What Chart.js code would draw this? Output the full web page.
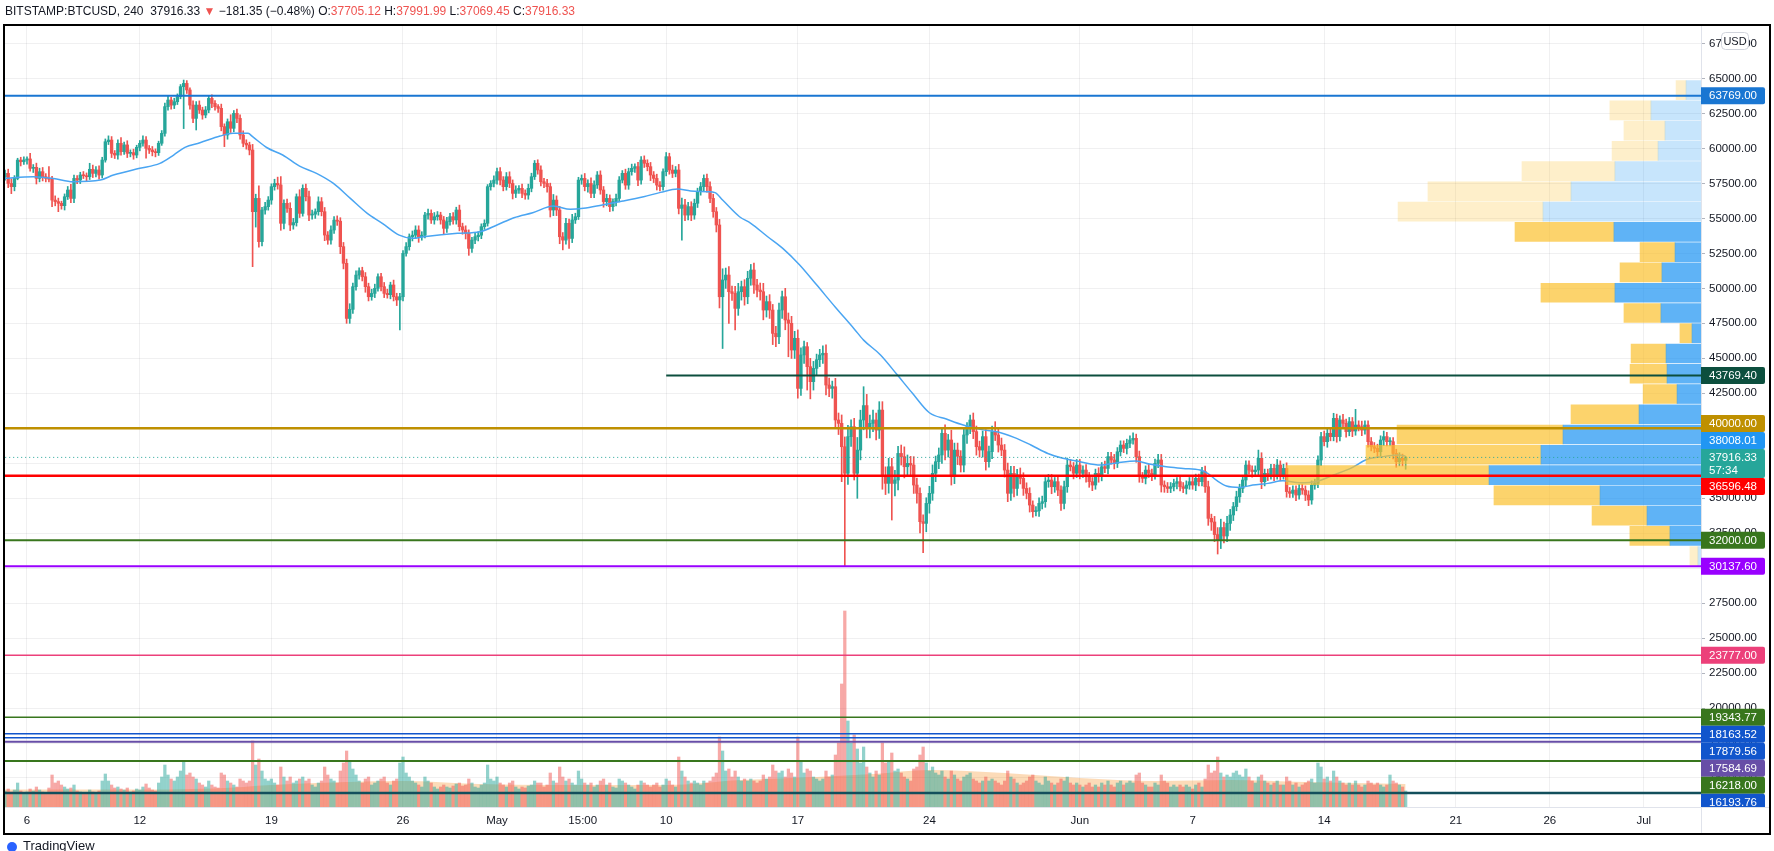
<!DOCTYPE html>
<html><head><meta charset="utf-8">
<script src="https://cdn.jsdelivr.net/npm/chart.js@4.4.1/dist/chart.umd.min.js"></script>
<style>html,body{margin:0;padding:0;background:#fff;overflow:hidden}canvas{display:block}</style>
</head><body>
<canvas id="c" width="1774" height="851" style="width:1774px;height:851px"></canvas>
<script>
// ---------- DATA ----------
// 4h candles, first bar = Apr 4 20:00, x unit = days since Apr 6 00:00
const FIRST_BAR_DAY = -7 / 6;
const BAR_DAYS = 1 / 6;
const firstOpen = 57980;
const closes = [
58220,57500,57270,57860,59170,59050,59170,59250,58580,58650,57860,58340,
57980,57860,57800,56310,56200,56080,55910,56550,57030,56430,57860,57740,
58100,58050,57980,58510,58220,58460,58100,59170,60480,60600,59650,59530,
60370,59770,60250,59650,59700,59530,60080,60370,60600,60010,59890,59770,
59700,60370,61080,62990,63460,63100,63340,63700,64420,64650,64180,63100,
62150,63100,62750,62390,62750,63580,63220,62990,62870,61560,60960,61910,
61440,62510,62150,60960,60370,60250,59890,55480,56430,53340,55600,55840,
56310,57270,57500,57390,54650,56080,55720,54530,54700,56550,55360,57150,
56550,55240,55300,55480,56190,55480,53810,53450,54170,54880,54800,52980,
51790,47850,48500,50120,50950,51260,50830,50120,49400,49640,50000,50830,
50120,49640,49550,50240,49400,49170,49400,52500,52980,53690,53800,54170,
53690,53800,55240,55360,54890,55120,55240,54890,54290,54770,55120,54890,
55600,54410,54170,53930,52860,53450,53690,53800,54410,54650,57270,57500,
57740,58340,57740,57270,57980,57500,56790,57030,57150,56790,56670,57150,
57980,58940,58460,57620,57500,57270,55600,56310,55600,53690,53450,54650,
53570,54890,55120,57740,57860,57270,57500,56790,57390,58100,57030,56200,
56430,55840,56200,56430,57740,58220,57380,58340,58580,58700,57740,59170,
58940,58700,58100,57860,57380,57270,58340,59410,58460,58220,58460,55720,
55960,55240,55840,55240,56080,56910,57270,57860,57270,56430,55480,54530,
49400,50600,50950,49760,49640,48570,49760,50120,49400,50720,51310,50240,
49880,49760,48450,49050,48450,46780,46540,48450,49400,47740,47500,45590,
46430,42850,45240,45830,44400,43330,44280,44900,45240,45360,43090,42850,
42970,40590,40350,38680,36780,39400,40110,36780,38440,40590,41620,40110,
40350,40590,39870,41300,36540,36060,37250,36060,36300,38200,37970,37250,
37490,37370,35940,35350,33320,33200,34630,35350,36780,37610,38090,39640,
38440,39160,36540,38440,38000,37370,39520,40110,40590,39760,38680,38440,
39400,37610,38330,39750,39520,38800,38440,37010,35350,36780,35700,36660,
36420,35700,35350,34510,34040,34100,34630,34750,36180,36300,35820,36180,
35580,34630,35820,37370,37250,36780,37370,36780,37010,36540,36180,35940,
36780,36540,37250,37130,37970,37730,37490,38320,38800,38560,38920,39160,
39280,37970,36540,36420,37010,36780,36660,37490,37730,35940,35820,35700,
35820,36060,36180,35820,35700,35940,36180,35940,36420,36180,36900,35820,
33560,33300,32400,32000,32900,32300,33200,33800,34400,35100,35700,36300,
37370,37010,36900,37010,37850,36180,36780,36660,37130,36660,37370,36660,
37130,35470,35350,35580,35230,35700,35580,35230,34870,35940,36060,37730,
39400,39040,39640,39400,40710,39400,40590,40350,39760,40470,39800,40230,
40110,39870,40230,39040,38680,38560,38320,39160,39400,39040,39040,38200,
37610,37850,37705.12,37916.33];
// wick lengths above / below the body (USD)
const upperWicks = [
240,300,330,200,130,200,230,150,400,200,300,250,
300,220,840,200,300,250,150,200,250,400,240,200,
200,250,200,430,300,250,300,200,200,300,250,200,
250,400,200,300,200,250,150,200,300,250,200,250,
200,150,200,250,300,200,250,200,150,240,200,150,
300,250,300,200,250,200,250,200,150,300,200,200,
500,200,300,250,300,250,200,400,300,900,200,300,
250,200,300,450,600,250,300,400,300,200,500,250,
300,400,300,200,350,300,300,250,300,250,300,250,
300,300,400,250,300,200,250,300,250,300,300,200,
250,300,300,200,350,250,250,200,300,200,300,300,
300,250,200,300,250,300,250,200,250,300,250,300,
200,350,250,300,250,200,300,250,200,250,150,200,
300,250,300,250,300,350,250,300,200,300,250,300,
250,200,250,300,250,300,250,400,300,250,300,350,
300,400,250,200,250,350,250,400,300,250,300,250,
300,250,200,300,250,200,300,250,300,200,300,250,
300,250,300,250,300,250,200,300,250,350,250,400,
500,400,300,350,300,250,300,250,300,350,300,300,
400,800,500,600,400,500,600,400,500,500,400,500,
400,500,600,400,500,400,500,500,400,600,500,500,
500,600,500,400,300,600,500,400,400,540,600,500,
400,600,500,600,700,800,500,600,900,700,1350,800,
600,700,500,600,600,700,600,600,700,500,600,700,
600,500,600,500,400,500,400,500,600,400,500,400,
600,400,700,500,500,400,400,300,360,500,400,400,
400,500,400,400,720,400,500,400,500,500,500,400,
500,400,400,400,300,300,400,400,300,400,400,300,
400,300,400,500,400,300,400,400,300,400,300,300,
300,400,300,400,300,300,400,300,300,300,300,300,
400,300,400,300,300,400,300,300,400,400,300,300,
300,300,300,400,300,300,300,400,300,300,300,400,
400,300,400,500,600,400,500,400,300,400,300,300,
300,300,300,300,590,400,300,300,300,300,400,300,
300,400,300,300,300,300,300,300,300,300,300,300,
300,400,300,400,360,300,300,400,300,300,300,1120,
300,400,300,300,300,300,300,300,400,300,300,300,
300,400,300,76];
const lowerWicks = [
240,300,500,300,100,300,200,300,200,300,400,250,
300,250,200,470,300,600,250,310,200,300,300,250,
250,200,300,200,300,250,300,200,150,200,300,250,
300,250,200,300,250,300,200,250,200,700,250,300,
300,200,150,200,250,300,250,200,150,3000,250,300,
300,830,250,300,200,200,300,250,300,300,830,300,
300,250,300,300,250,300,350,3930,1100,400,300,300,
250,300,250,300,500,400,300,400,300,250,300,200,
300,400,300,300,250,300,400,300,300,250,300,500,
400,350,350,300,250,300,300,400,300,250,300,200,
300,300,250,300,300,400,2150,300,200,250,300,250,
400,250,200,300,250,300,250,300,400,300,250,300,
300,300,300,400,500,300,250,300,250,200,200,250,
250,300,350,300,250,300,400,300,250,300,300,300,
250,200,300,300,300,400,500,400,400,500,700,300,
710,300,250,200,300,300,400,300,300,250,300,400,
300,350,300,300,250,200,300,300,250,300,400,300,
300,300,400,300,350,300,250,300,300,300,250,400,
2270,400,350,400,300,300,250,300,400,300,400,500,
800,3700,600,2260,500,1550,500,600,600,500,500,600,
500,600,700,500,600,800,700,500,600,700,2390,600,
600,700,500,600,1670,1230,600,500,500,600,700,590,
700,600,800,2500,6640,800,700,480,1790,700,700,800,
800,600,700,600,900,800,700,2620,900,700,600,800,
700,800,600,700,800,2100,600,700,500,600,500,600,
700,500,600,500,600,500,500,600,500,500,600,500,
500,600,400,500,400,500,400,500,600,500,600,500,
400,500,400,500,400,300,400,400,400,400,500,400,
400,500,400,400,300,400,300,400,300,400,400,400,
300,400,300,300,400,300,400,300,300,300,400,300,
300,400,400,300,400,300,400,300,300,500,400,300,
300,300,400,300,300,400,300,300,400,300,300,400,
500,600,500,990,600,500,400,500,400,300,400,300,
400,300,400,300,400,500,300,400,300,400,300,400,
300,400,300,300,400,300,300,400,400,300,300,300,
400,300,400,300,300,400,300,300,400,300,400,300,
300,400,300,400,300,300,400,300,400,300,300,400,
400,300,400,636];
// volume per bar (BTC)
const volumes = [
1600,1800,1500,1700,2400,1600,1400,1500,1800,1600,2000,1700,
1500,1400,1900,3200,2400,2600,2200,2000,1800,1900,2200,1600,
1500,1300,1400,1700,1500,1400,1600,2600,3300,2600,2200,1900,
2000,1800,1700,1900,1500,1600,1800,1700,2000,2300,1900,1700,
1600,2400,3000,4200,3200,2800,2600,3000,3600,4600,3200,3400,
3000,2800,2400,2200,2000,2600,2200,2000,1900,3400,3200,2600,
2400,2200,2000,2800,2600,2400,2600,6600,4200,4800,3600,2800,
2600,2800,2400,2200,4000,3000,2600,3000,2400,2600,2800,3000,
2600,2800,2200,2000,2400,2600,4000,3200,2800,2600,2400,3600,
4400,5600,4600,3800,3200,2600,2400,2800,3000,2200,2400,2600,
2800,3000,2400,2200,2600,2800,4400,5000,3400,3000,2600,2400,
2200,2000,3000,2600,2400,2000,1800,2000,2200,2000,1900,2100,
2300,2400,2100,2200,2800,2400,2000,1900,2200,2400,4200,2800,
2600,3000,2400,2200,2000,2400,2600,2000,1800,2000,1900,2100,
2200,2600,2400,2400,2000,2200,3400,2600,2400,4000,3000,2600,
2800,2400,2200,3600,2800,2400,2200,2400,2000,2200,2600,2800,
2200,2400,2000,1900,2800,2600,2400,2200,2000,1800,2200,2600,
2400,2200,2000,2200,2400,2000,2200,2800,2600,2200,2000,5000,
3600,3000,2600,2400,2600,2400,2200,2600,2400,2600,3000,3400,
7000,5600,3600,3800,3000,3600,3000,2600,2800,2600,2800,2600,
2400,2600,3200,2800,3000,4200,3600,3400,3600,3000,3800,3400,
3000,7000,4600,3400,3800,3600,3000,2800,2600,2800,3600,3000,
3200,5200,6400,12300,19600,8600,6400,7200,5800,4400,6000,4000,
3400,3000,3600,3200,6400,4400,4600,5400,3600,3800,3400,3000,
2800,2600,3800,4000,5200,6000,4400,3600,4000,3400,3200,3600,
3000,2800,3600,3200,2800,2600,3000,3200,3400,2800,2600,2400,
2600,3000,2600,2800,2600,2400,2200,2600,3600,3000,2800,2400,
2200,2400,2600,3000,3200,2600,2400,2200,3000,2600,2400,2200,
2400,2800,2600,3000,2400,2200,2400,2200,2000,2200,2400,2000,
2200,2000,2400,2200,2600,2200,2000,2400,2600,2200,2400,2600,
2400,3200,3400,2400,2200,2000,2000,2400,2200,3200,2600,2400,
2000,2200,2000,2200,2000,2200,2000,1800,2200,2400,2000,2800,
4200,3400,3600,5000,3400,3000,3200,3000,3400,3600,3200,3000,
3800,3000,2600,2400,3000,3200,2600,2400,2200,2400,2600,2200,
2200,3000,2600,2200,2400,2000,2200,2400,2600,2800,2400,4400,
4000,2800,3000,2600,3600,3000,2600,2400,2200,2400,2200,2600,
2200,2000,2200,2600,2400,2200,2400,2200,2000,2200,3200,2600,
2400,2200,2000,1600];
// moving average of price (blue line), [day, price]
const maPoints = [[-1.25,57860],[0.32,57980],[1.4,57860],[2.45,57620],[3.9,57740],[4.6,58100],[6.0,58580],[7.07,58930],[7.8,59530],[8.4,60080],[9.2,60410],[10.27,60890],[10.96,61080],[11.76,61080],[12.0,60840],[12.77,60050],[13.6,59530],[14.5,58740],[15.4,58220],[16.3,57500],[17.2,56430],[18.1,55360],[18.9,54650],[19.8,53800],[20.5,53580],[21.1,53690],[22.9,53930],[24.1,54050],[25.0,54530],[25.9,55050],[26.9,55410],[28.0,55880],[28.9,55650],[29.6,55720],[30.6,55960],[31.7,56240],[32.8,56550],[33.7,56860],[34.6,57100],[35.3,56960],[36.2,56910],[36.6,56840],[37.0,56310],[37.9,55120],[38.5,54650],[39.4,53690],[40.2,52860],[41.1,51670],[42.0,50250],[43.0,48650],[44.0,47100],[44.5,46300],[45.4,45240],[46.3,43800],[47.1,42500],[48.0,41110],[48.9,40660],[49.8,40230],[50.7,39920],[51.6,39750],[52.5,39350],[53.4,38800],[54.3,38200],[55.1,37850],[56.0,37610],[57.1,37370],[58.0,37540],[59.0,37660],[59.7,37440],[60.6,37250],[61.5,37130],[62.4,37010],[62.8,36780],[63.3,36250],[63.8,35870],[64.5,35770],[65.2,35940],[66.0,36060],[66.8,36250],[67.7,36100],[68.6,36200],[69.5,36660],[70.4,37130],[71.3,37780],[72.1,37970],[73.0,38090],[73.33,38008.01]];
// moving average of volume (peach area), [day, BTC]
const volMaPoints = [[-1.25,1750],[5,1750],[10,1850],[13,2200],[17,2500],[20,2600],[24,2300],[28,2200],[34,2200],[38,2700],[42,3000],[45,3300],[48,3700],[52,3400],[56,2900],[60,2600],[64,2700],[68,2500],[73.33,2300]];
// visible range volume profile, rows from the lowest price upward (thousand BTC)
const profileLow = 30137.6, profileHigh = 64895, profileRows = 24;
const profileBuy  = [0.18,1.83,3.18,5.95,12.49,9.43,8.13,3.65,1.41,2.00,2.06,0.53,2.36,5.07,2.30,1.53,5.13,9.31,7.66,5.07,2.53,2.12,2.95,0.88];
const profileSell = [0.47,2.36,3.24,6.25,11.96,10.31,9.78,4.01,2.00,2.18,2.06,0.71,2.18,4.36,2.47,2.06,5.83,8.54,8.43,5.48,2.71,2.42,2.42,0.59];
const valueAreaFirstRow = 1, valueAreaLastRow = 16;
// horizontal levels
const levelPrices = [63769.00,43769.40,40000.00,36596.48,32000.00,30137.60,23777.00,19343.77,18163.52,17879.56,17584.69,16218.00,16193.76,13930];
const levelColors = ['#1976d2','#0c4f3e','#bf9000','#ff0000','#38761d','#9900ff','#ec407a','#38761d','#1155cc','#1155cc','#674ea7','#38761d','#1155cc','#134f5c'];
const levelWidths = [2,2,2.5,2.5,2,2,1.5,1.5,1.5,1.5,2,2,1.5,2.5];
const levelStartDay = [null,34,null,null,null,null,null,null,null,null,null,null,null,null];
const levelLabels = ['63769.00','43769.40','40000.00','36596.48','32000.00','30137.60','23777.00','19343.77','18163.52','17879.56','17584.69','16218.00','16193.76',null];
// axes
const tickDays = [0,6,13,20,25,29.56,34,41,48,56,62,69,76,81,86];
const tickLabels = ['6','12','19','26','May','15:00','10','17','24','Jun','7','14','21','26','Jul'];
const priceMin = 12927, priceMax = 68753, priceStep = 2500;
const dayMin = -1.2234, dayMax = 89.0426;
// header
const symbolText = 'BITSTAMP:BTCUSD, 240';
const lastPrice = 37916.33, change = '\u2212181.35', changePct = '(\u22120.48%)';
const hdrO = '37705.12', hdrH = '37991.99', hdrL = '37069.45', hdrC = '37916.33';
const countdown = '57:34';

// ---------- BUILD ----------
const UP = '#26a69a', DOWN = '#ef5350';
const FONT = '"Liberation Sans", Arial, sans-serif';
const barDay = closes.map((_, i) => FIRST_BAR_DAY + i * BAR_DAYS);
const opens = closes.map((c, i) => i === 0 ? firstOpen : closes[i - 1]);
const highs = closes.map((c, i) => Math.max(opens[i], c) + upperWicks[i]);
const lows = closes.map((c, i) => Math.min(opens[i], c) - lowerWicks[i]);
const isUp = closes.map((c, i) => c >= opens[i]);
const candleColor = isUp.map(u => u ? UP : DOWN);
const volColor = isUp.map(u => u ? 'rgba(38,166,154,0.5)' : 'rgba(239,83,80,0.5)');
const rowStep = (profileHigh - profileLow) / profileRows;
const rowCenter = profileBuy.map((_, k) => profileLow + rowStep * (k + 0.5));
const inVA = k => k >= valueAreaFirstRow && k <= valueAreaLastRow;
const priceTicks = [];
for (let v = Math.ceil(priceMin / priceStep) * priceStep; v <= priceMax; v += priceStep) priceTicks.push(v);

const datasets = [];
datasets.push({type:'line', label:'volMA', yAxisID:'yv', xAxisID:'x', data: volMaPoints.map(([d,v])=>({x:d,y:v})),
  borderWidth:0, pointRadius:0, fill:'origin', backgroundColor:'rgba(245,124,0,0.28)', cubicInterpolationMode:'monotone', order:10});
datasets.push({type:'bar', label:'vol', yAxisID:'yv', xAxisID:'x', data: barDay.map((d,i)=>({x:d,y:volumes[i]})),
  backgroundColor: volColor, barThickness:2.6, grouped:false, order:9});
datasets.push({type:'bar', label:'wicks', yAxisID:'y', xAxisID:'x', data: barDay.map((d,i)=>({x:d,y:[lows[i],highs[i]]})),
  backgroundColor: candleColor, barThickness:1, grouped:false, order:7});
datasets.push({type:'bar', label:'bodies', yAxisID:'y', xAxisID:'x', data: barDay.map((d,i)=>({x:d,y:[opens[i],closes[i]]})),
  backgroundColor: candleColor, barThickness:2.7, minBarLength:1, grouped:false, order:6});
datasets.push({type:'line', label:'MA', yAxisID:'y', xAxisID:'x', data: maPoints.map(([d,p])=>({x:d,y:p})),
  borderColor:'#4aa5f2', borderWidth:1.5, pointRadius:0, fill:false, cubicInterpolationMode:'monotone', order:5.5});
datasets.push({type:'bar', label:'profileBuy', indexAxis:'y', yAxisID:'y', xAxisID:'xp',
  data: rowCenter.map((c,k)=>({y:c, x:[0, profileBuy[k]]})),
  backgroundColor: rowCenter.map((c,k)=> inVA(k) ? 'rgba(33,150,243,0.72)' : 'rgba(33,150,243,0.25)'),
  barThickness:19, grouped:false, order:5});
datasets.push({type:'bar', label:'profileSell', indexAxis:'y', yAxisID:'y', xAxisID:'xp',
  data: rowCenter.map((c,k)=>({y:c, x:[profileBuy[k], profileBuy[k] + profileSell[k]]})),
  backgroundColor: rowCenter.map((c,k)=> inVA(k) ? 'rgba(251,192,45,0.7)' : 'rgba(251,192,45,0.25)'),
  barThickness:19, grouped:false, order:5});
levelPrices.forEach((p, i) => {
  const x0 = levelStartDay[i] === null ? dayMin - 1 : levelStartDay[i];
  datasets.push({type:'line', label:'lvl'+i, yAxisID:'y', xAxisID:'x', data:[{x:x0,y:p},{x:dayMax+1,y:p}],
    borderColor: levelColors[i], borderWidth: levelWidths[i], pointRadius:0, fill:false, order:4});
});
datasets.push({type:'line', label:'last', yAxisID:'y', xAxisID:'x', data:[{x:dayMin-1,y:lastPrice},{x:dayMax+1,y:lastPrice}],
  borderColor: UP, borderWidth:1, borderDash:[1,3], pointRadius:0, fill:false, order:3});

const GRID = 'rgba(42,46,57,0.07)';
const overlay = {
  id:'overlay',
  afterDraw(chart) {
    const ctx = chart.ctx, ys = chart.scales.y, ca = chart.chartArea;
    const R = ca.right;
    ctx.save();
    ctx.strokeStyle = '#e0e3eb'; ctx.lineWidth = 1;
    ctx.beginPath(); ctx.moveTo(R + 0.5, ca.bottom); ctx.lineTo(R + 0.5, 834); ctx.stroke();
    ctx.beginPath(); ctx.moveTo(R, ca.bottom + 0.5); ctx.lineTo(1770, ca.bottom + 0.5); ctx.stroke();
    // price labels with stacking
    const items = [];
    levelPrices.forEach((p, i) => { if (levelLabels[i]) items.push({p, text: levelLabels[i], color: levelColors[i], h: 17}); });
    const maLast = maPoints[maPoints.length - 1][1];
    items.push({p: maLast, text: maLast.toFixed(2), color: '#2196f3', h: 17});
    items.push({p: lastPrice, text: lastPrice.toFixed(2), sub: countdown, color: UP, h: 29, anchor: true});
    items.forEach(it => { it.y = ys.getPixelForValue(it.p); it.top = it.y - 8.5; });
    items.sort((a, b) => a.y - b.y);
    const ai = items.findIndex(it => it.anchor);
    for (let i = ai - 1; i >= 0; i--) { const b = items[i + 1]; if (items[i].top + items[i].h > b.top) items[i].top = b.top - items[i].h; }
    for (let i = ai + 1; i < items.length; i++) { const a = items[i - 1]; if (items[i].top < a.top + a.h) items[i].top = a.top + a.h; }
    ctx.save();
    ctx.beginPath(); ctx.rect(R, ca.top - 2, 70, ca.bottom - ca.top + 2); ctx.clip();
    ctx.font = '11.5px ' + FONT; ctx.textBaseline = 'middle'; ctx.textAlign = 'left';
    items.forEach(it => {
      ctx.fillStyle = it.color;
      ctx.beginPath(); ctx.roundRect(R, it.top, 64, it.h, [0, 2, 2, 0]); ctx.fill();
      ctx.fillStyle = '#ffffff';
      ctx.fillText(it.text, R + 8, it.top + 9);
      if (it.sub) ctx.fillText(it.sub, R + 8, it.top + 22);
    });
    ctx.restore();
    // USD box
    ctx.fillStyle = '#fff'; ctx.strokeStyle = '#d1d4dc'; ctx.lineWidth = 1;
    ctx.beginPath(); ctx.roundRect(1721.5, 32.5, 27, 17, 4); ctx.fill(); ctx.stroke();
    ctx.fillStyle = '#131722'; ctx.font = '11px ' + FONT; ctx.textAlign = 'center'; ctx.textBaseline = 'middle';
    ctx.fillText('USD', 1735, 41.5);
    // header
    ctx.textAlign = 'left'; ctx.font = '12px ' + FONT; ctx.textBaseline = 'middle';
    const dark = '#131722';
    const parts = [[symbolText, dark], ['  ' + lastPrice.toFixed(2) + ' ', dark], ['\u25BC', DOWN], [' ' + change + ' ' + changePct + ' ', dark],
      ['O:', dark], [hdrO, DOWN], [' H:', dark], [hdrH, DOWN], [' L:', dark], [hdrL, DOWN], [' C:', dark], [hdrC, DOWN]];
    let x = 5;
    parts.forEach(([t, c]) => { ctx.fillStyle = c; ctx.fillText(t, x, 12); x += ctx.measureText(t).width; });
    // outer frame
    ctx.strokeStyle = '#000'; ctx.lineWidth = 2;
    ctx.strokeRect(4, 25, 1766, 809);
    // footer
    ctx.fillStyle = '#2962ff';
    ctx.beginPath(); ctx.arc(12, 847, 5, 0, Math.PI * 2); ctx.fill();
    ctx.fillStyle = '#131722'; ctx.font = '13px ' + FONT; ctx.textBaseline = 'top';
    ctx.fillText('TradingView', 23, 840);
    ctx.restore();
  }
};

new Chart(document.getElementById('c'), {
  type: 'bar',
  data: { datasets },
  options: {
    responsive: false, animation: false, devicePixelRatio: 1, events: [],
    layout: { padding: { left: 4, right: 4, top: 26, bottom: 17 } },
    plugins: { legend: { display: false }, tooltip: { enabled: false } },
    scales: {
      x: { type: 'linear', position: 'bottom', min: dayMin, max: dayMax, offset: false,
        afterBuildTicks: s => { s.ticks = tickDays.map(v => ({ value: v })); },
        afterFit: s => { s.height = 27; },
        ticks: { callback: (v, i) => tickLabels[i], color: '#131722', font: { family: FONT, size: 11.5 }, padding: 7, maxRotation: 0, autoSkip: false },
        grid: { color: GRID, drawTicks: false, offset: false }, border: { color: '#e0e3eb' } },
      y: { type: 'linear', position: 'right', min: priceMin, max: priceMax, offset: false,
        afterBuildTicks: s => { s.ticks = priceTicks.map(v => ({ value: v })); },
        afterFit: s => { s.width = 69; },
        ticks: { callback: v => v.toFixed(2), color: '#131722', font: { family: FONT, size: 11.5 }, padding: 4, autoSkip: false },
        grid: { color: GRID, tickLength: 4, tickColor: '#b2b5be', offset: false }, border: { color: '#e0e3eb' } },
      yv: { type: 'linear', axis: 'y', position: 'left', display: false, min: 0, max: 78100, offset: false },
      xp: { type: 'linear', axis: 'x', position: 'bottom', display: false, reverse: true, min: 0, max: 100, offset: false }
    }
  },
  plugins: [overlay]
});
</script></body></html>
